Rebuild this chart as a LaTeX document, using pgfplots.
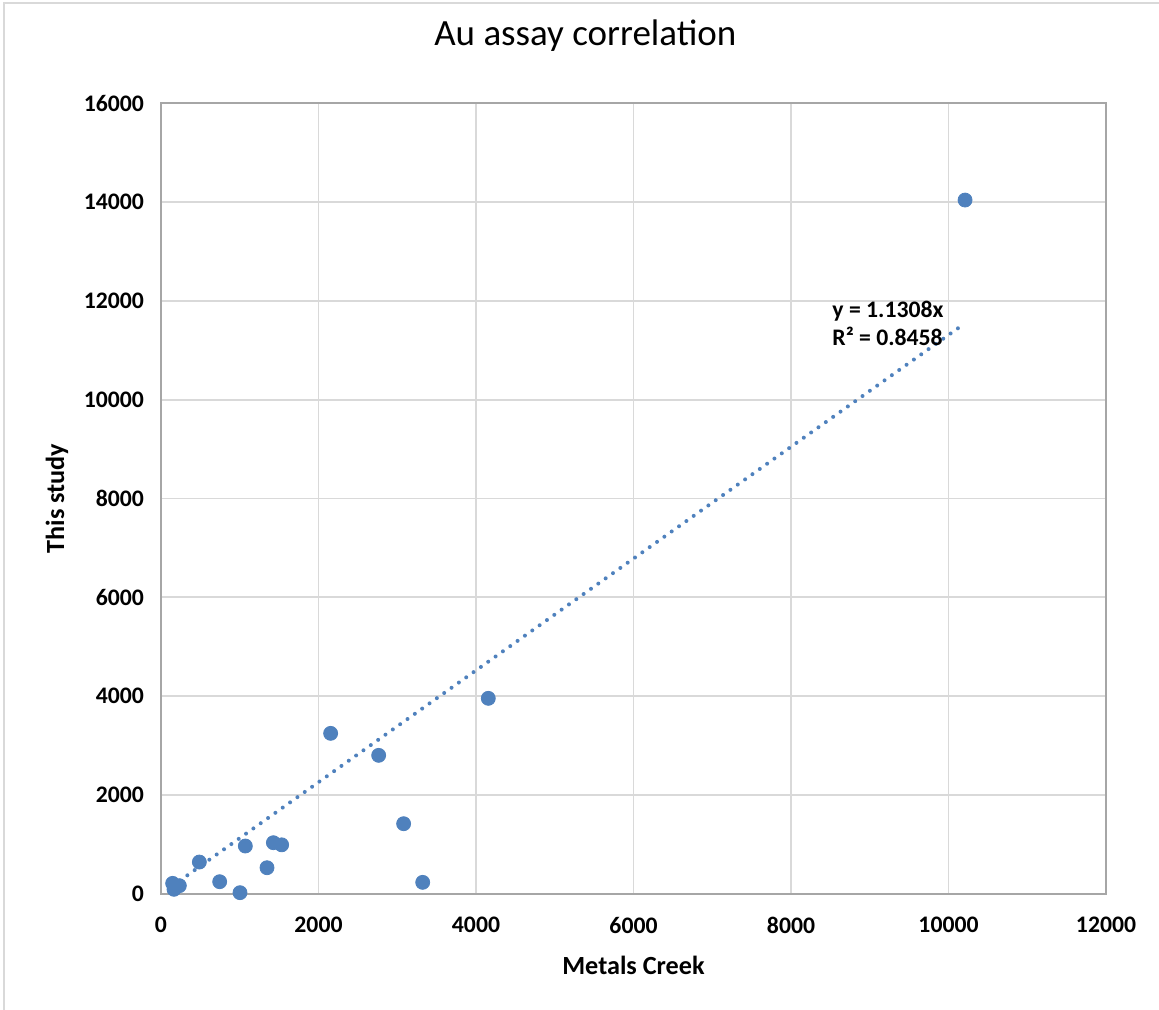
\documentclass[border=0pt]{standalone}
\usepackage{pgfplots}
\pgfplotsset{compat=1.18}
\usepackage{fontspec}
\setmainfont{Carlito}
\definecolor{ptblue}{RGB}{79,129,189}
\definecolor{gridgray}{RGB}{217,217,217}
\definecolor{axgray}{RGB}{166,166,166}
\begin{document}
\begin{tikzpicture}
\useasboundingbox (-80.5pt,-57.5pt) rectangle (499pt,447pt);
\draw[gridgray, line width=0.8pt] (-78.5pt,-70pt) rectangle (510pt,445.5pt);
\begin{axis}[
  at={(0,0)}, anchor=south west,
  scale only axis=true,
  width=472.5pt, height=395.5pt,
  xmin=0, xmax=12000, ymin=0, ymax=16000,
  xtick={0,2000,...,12000}, ytick={0,2000,...,16000},
  /pgf/number format/assume math mode=true,
  /pgf/number format/1000 sep={},
  scaled ticks=false,
  major tick length=0pt,
  grid=major,
  major grid style={gridgray, line width=0.9pt},
  axis line style={axgray, line width=1pt},
  ticklabel style={font=\bfseries\fontsize{11.85}{14}\selectfont},
  xticklabel style={yshift=-8pt},
  yticklabel style={xshift=-5pt},
  title={Au assay correlation},
  title style={at={(rel axis cs:0.449,1)}, anchor=center, yshift=27.5pt, font=\fontsize{18.5}{22}\selectfont},
  xlabel={Metals Creek},
  xlabel style={at={(rel axis cs:0.5,0)}, anchor=center, yshift=-35.5pt, font=\bfseries\fontsize{13.1}{15}\selectfont},
  ylabel={This study},
  ylabel style={at={(axis description cs:-0.110,0.5)}, anchor=center, font=\bfseries\fontsize{13.1}{15}\selectfont},
  clip=false,
]
\addplot[ptblue, line width=2pt, line cap=round, dash pattern=on 0pt off 4.5pt] coordinates {(148,167.4) (10210,11545.5)};
\addplot[only marks, mark=*, mark size=3.5pt, mark options={fill=ptblue, draw=ptblue}] coordinates {
(148,216) (233,168) (165,95) (487,647) (745,249) (1003,27) (1071,971) (1346,532)
(1427,1038) (1532,995) (2154,3250) (2764,2805) (3081,1422) (3323,236) (4156,3958) (10210,14037)
};
\node[anchor=west, align=left, font=\bfseries\fontsize{11.85}{14}\selectfont, inner sep=0pt] at (axis cs:8521,11549) {y = 1.1308x\\R² = 0.8458};
\end{axis}
\end{tikzpicture}
\end{document}
